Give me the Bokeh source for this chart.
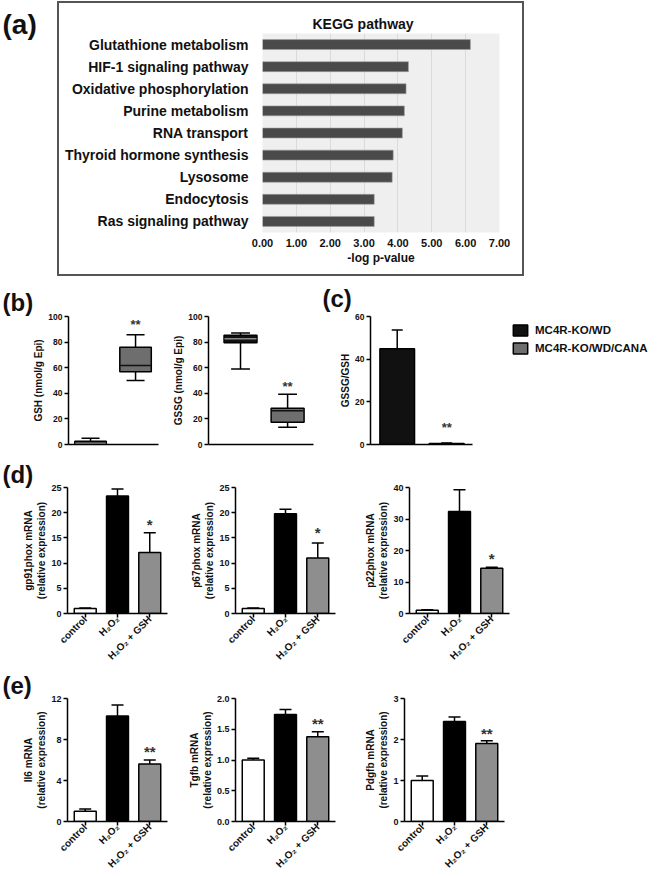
import math
from bokeh.plotting import figure
from bokeh.models import (Range1d, FactorRange, FixedTicker, NumeralTickFormatter,
                          Whisker, TeeHead, ColumnDataSource, Legend, LegendItem)
from bokeh.layouts import row, column
from bokeh.embed import file_html
from bokeh.resources import INLINE
from bokeh.core.properties import value

FONT = "Liberation Sans"
INK = "#111111"

# ---------------- data ----------------
kegg_pathways = ["Glutathione metabolism", "HIF-1 signaling pathway", "Oxidative phosphorylation",
                 "Purine metabolism", "RNA transport", "Thyroid hormone synthesis", "Lysosome",
                 "Endocytosis", "Ras signaling pathway"]
kegg_neglogp = [6.14, 4.31, 4.24, 4.19, 4.13, 3.86, 3.83, 3.30, 3.30]
kegg_ticks = [0, 1, 2, 3, 4, 5, 6, 7]

groups_b = ["MC4R-KO/WD", "MC4R-KO/WD/CANA"]
group_colors = ["#111111", "#6e6e6e"]
median_colors = ["#8a8a8a", "#111111"]

gsh_min = [0.0, 50.0]
gsh_q1 = [0.3, 56.8]
gsh_med = [1.0, 61.8]
gsh_q3 = [2.5, 76.0]
gsh_max = [4.8, 85.8]
gsh_stars = ["", "**"]
gsh_star_y = [0, 94]

gssg_min = [59.0, 13.4]
gssg_q1 = [79.5, 17.3]
gssg_med = [82.7, 26.3]
gssg_q3 = [85.3, 28.4]
gssg_max = [87.1, 39.3]
gssg_stars = ["", "**"]
gssg_star_y = [0, 45]

ratio_mean = [44.9, 0.5]
ratio_sem = [8.8, 0.2]
ratio_stars = ["", "**"]
ratio_star_y = [0, 8]

b_ticks = [0, 20, 40, 60, 80, 100]
c_ticks = [0, 20, 40, 60]

treatments = ["control", "H\u2082O\u2082", "H\u2082O\u2082 + GSH"]
bar_colors = ["#ffffff", "#000000", "#8e8e8e"]

gp91_mean = [1.0, 23.3, 12.1]
gp91_sem = [0.1, 1.4, 3.9]
gp91_stars = ["", "", "*"]
gp91_star_y = [0, 0, 17.6]

p67_mean = [1.0, 19.8, 11.0]
p67_sem = [0.1, 0.9, 3.0]
p67_stars = ["", "", "*"]
p67_star_y = [0, 0, 16.1]

p22_mean = [1.0, 32.4, 14.4]
p22_sem = [0.2, 6.9, 0.3]
p22_stars = ["", "", "*"]
p22_star_y = [0, 0, 17.4]

il6_mean = [1.0, 10.3, 5.6]
il6_sem = [0.22, 1.07, 0.4]
il6_stars = ["", "", "**"]
il6_star_y = [0, 0, 6.85]

tgfb_mean = [1.0, 1.74, 1.38]
tgfb_sem = [0.03, 0.08, 0.08]
tgfb_stars = ["", "", "**"]
tgfb_star_y = [0, 0, 1.59]

pdgfb_mean = [1.0, 2.44, 1.90]
pdgfb_sem = [0.11, 0.11, 0.07]
pdgfb_stars = ["", "", "**"]
pdgfb_star_y = [0, 0, 2.15]

ticks_25 = [0, 5, 10, 15, 20, 25]
ticks_40 = [0, 10, 20, 30, 40]
ticks_12 = [0, 4, 8, 12]
ticks_2 = [0.0, 0.5, 1.0, 1.5, 2.0]
ticks_3 = [0, 1, 2, 3]


# ---------------- helpers ----------------
def base_fig(w, h, left, right, top, bottom, x_range, y_range, **kw):
    p = figure(width=w, height=h, x_range=x_range, y_range=y_range,
               output_backend="svg", toolbar_location=None,
               min_border_left=left, min_border_right=right,
               min_border_top=top, min_border_bottom=bottom, **kw)
    p.grid.visible = False
    p.outline_line_color = None
    return p


def set_title(p, text, offset, standoff, size="24px"):
    p.title.text = text
    p.title.align = "left"
    p.title.offset = offset
    p.title.standoff = standoff
    p.title.text_font = FONT
    p.title.text_font_size = size
    p.title.text_font_style = "bold"
    p.title.text_color = INK


def prism_axes(p, tick_size):
    for ax in [p.xaxis[0], p.yaxis[0]]:
        ax.axis_line_color = "black"
        ax.axis_line_width = 1.5
        ax.major_tick_line_color = "black"
        ax.major_tick_line_width = 1.5
        ax.major_tick_in = 0
        ax.major_tick_out = 4
        ax.minor_tick_line_color = None
        ax.major_label_text_font = FONT
        ax.major_label_text_font_style = "bold"
        ax.major_label_text_font_size = tick_size
        ax.major_label_text_color = INK
        ax.major_label_standoff = 2
        ax.axis_label_text_font = FONT
        ax.axis_label_text_font_style = "bold"
        ax.axis_label_text_font_size = "10px"
        ax.axis_label_text_color = INK
        ax.axis_label_standoff = 1


def stars_text(p, xs, ys, texts, size):
    p.text(x=xs, y=ys, text=texts, text_font=value(FONT), text_font_size=size,
           text_font_style="bold", text_align="center", text_baseline="middle",
           text_color="#333333")


def box_panel(w, left, right, xr, mins, q1s, meds, q3s, maxs, stars, star_y, ylabel):
    p = base_fig(w, 175, left, right, 38, 8, Range1d(*xr), Range1d(0, 100))
    pos = [i + 1 for i in range(len(groups_b))]
    p.segment(x0=pos, y0=q3s, x1=pos, y1=maxs, line_color="black", line_width=1.5)
    p.segment(x0=pos, y0=q1s, x1=pos, y1=mins, line_color="black", line_width=1.5)
    p.segment(x0=[x - 0.2 for x in pos], y0=maxs, x1=[x + 0.2 for x in pos], y1=maxs,
              line_color="black", line_width=1.5)
    p.segment(x0=[x - 0.2 for x in pos], y0=mins, x1=[x + 0.2 for x in pos], y1=mins,
              line_color="black", line_width=1.5)
    p.vbar(x=pos, bottom=q1s, top=q3s, width=0.7, fill_color=group_colors,
           line_color="black", line_width=1.5)
    p.segment(x0=[x - 0.34 for x in pos], y0=meds, x1=[x + 0.34 for x in pos], y1=meds,
              line_color=median_colors, line_width=1.5)
    stars_text(p, pos, star_y, stars, "13px")
    prism_axes(p, "8.5px")
    p.yaxis.ticker = FixedTicker(ticks=b_ticks)
    p.yaxis.axis_label = ylabel
    p.xaxis.ticker = FixedTicker(ticks=[])
    p.xaxis.major_tick_line_color = None
    return p


def bar_panel(w, h, left, right, top, frame_h, means, sems, ticks, ymax, stars, star_y,
              ylabel, fmt=None):
    bottom = h - top - frame_h
    p = base_fig(w, h, left, right, top, bottom, Range1d(0.45, 3.55), Range1d(0, ymax))
    pos = [i + 1 for i in range(len(treatments))]
    src = ColumnDataSource(dict(x=pos, top=means,
                                upper=[m + s for m, s in zip(means, sems)],
                                color=bar_colors))
    p.vbar(x="x", top="top", width=0.68, fill_color="color", line_color="black",
           line_width=1.5, source=src)
    p.add_layout(Whisker(source=src, base="x", lower="top", upper="upper", lower_head=None,
                         upper_head=TeeHead(size=12, line_color="black", line_width=1.5),
                         line_color="black", line_width=1.5))
    stars_text(p, pos, star_y, stars, "15px")
    prism_axes(p, "9px")
    p.yaxis.ticker = FixedTicker(ticks=ticks)
    if fmt:
        p.yaxis.formatter = NumeralTickFormatter(format=fmt)
    p.yaxis.axis_label = ylabel
    p.xaxis.ticker = FixedTicker(ticks=pos)
    p.xaxis.major_label_overrides = {x: t for x, t in zip(pos, treatments)}
    p.xaxis.major_label_orientation = math.pi / 4
    p.xaxis.major_label_text_font_size = "10px"
    p.xaxis.major_label_standoff = 0
    return p


# ---------------- panel (a) ----------------
blank_a = figure(width=56, height=277, x_axis_location=None, y_axis_location=None,
                 output_backend="svg", toolbar_location=None,
                 min_border_left=0, min_border_right=0, min_border_bottom=0, min_border_top=40)
blank_a.grid.visible = False
blank_a.outline_line_color = None
set_title(blank_a, "(a)", 2, 1, size="28px")

pa = figure(width=469, height=277, x_range=Range1d(0, 7),
            y_range=FactorRange(factors=kegg_pathways[::-1]),
            output_backend="svg", toolbar_location=None,
            min_border_left=206, min_border_right=26, min_border_top=33, min_border_bottom=45,
            styles={"outline": "2px solid #555555", "outline-offset": "-3px"})
pa.border_fill_alpha = 0
pa.hbar(y=kegg_pathways, right=kegg_neglogp, left=0, height=0.45,
        fill_color="#4a4a4a", line_color="#a0a0a0", line_width=0.6)
pa.background_fill_color = "#efefef"
pa.outline_line_color = None
pa.ygrid.visible = False
pa.xgrid.grid_line_color = "#dadada"
pa.xgrid.grid_line_width = 1
pa.xaxis.ticker = FixedTicker(ticks=kegg_ticks)
pa.xaxis.formatter = NumeralTickFormatter(format="0.00")
for ax in [pa.xaxis[0], pa.yaxis[0]]:
    ax.axis_line_color = None
    ax.major_tick_line_color = None
    ax.minor_tick_line_color = None
    ax.major_tick_out = 0
    ax.major_tick_in = 0
    ax.major_label_text_font = FONT
    ax.major_label_text_font_style = "bold"
    ax.major_label_text_color = INK
pa.xaxis.major_label_text_font_size = "11px"
pa.xaxis.major_label_standoff = 6
pa.xaxis.axis_label = "-log p-value"
pa.xaxis.axis_label_text_font = FONT
pa.xaxis.axis_label_text_font_style = "bold"
pa.xaxis.axis_label_text_font_size = "12px"
pa.xaxis.axis_label_text_color = INK
pa.xaxis.axis_label_standoff = 1
pa.yaxis.major_label_text_font_size = "14px"
pa.yaxis.major_label_standoff = 14
set_title(pa, "KEGG pathway", 50, 4, size="14px")

# ---------------- panels (b), (c) ----------------
pb1 = box_panel(166, 68, 8, (0.51, 2.51), gsh_min, gsh_q1, gsh_med, gsh_q3, gsh_max,
                gsh_stars, gsh_star_y, "GSH (nmol/g Epi)")
set_title(pb1, "(b)", -66, 2)
pb2 = box_panel(156, 42, 9, (0.32, 2.55), gssg_min, gssg_q1, gssg_med, gssg_q3, gssg_max,
                gssg_stars, gssg_star_y, "GSSG (nmol/g Epi)")

# frame of (c) is widened to hold the legend; the x axis line is bounded to the bars
c_xrange = (0.46, 6.22)
pc = base_fig(338, 175, 48, 5, 39, 7, Range1d(*c_xrange), Range1d(0, 60))
pos_c = [i + 1 for i in range(len(groups_b))]
src_c = ColumnDataSource(dict(x=pos_c, top=ratio_mean,
                              upper=[m + s for m, s in zip(ratio_mean, ratio_sem)],
                              color=group_colors))
rc = pc.vbar(x="x", top="top", width=0.7, fill_color="color", line_color="black",
             line_width=1.5, source=src_c)
pc.add_layout(Whisker(source=src_c, base="x", lower="top", upper="upper", lower_head=None,
                      upper_head=TeeHead(size=11, line_color="black", line_width=1.5),
                      line_color="black", line_width=1.5))
stars_text(pc, pos_c, ratio_star_y, ratio_stars, "13px")
prism_axes(pc, "8.5px")
pc.yaxis.ticker = FixedTicker(ticks=c_ticks)
pc.yaxis.axis_label = "GSSG/GSH"
pc.xaxis.ticker = FixedTicker(ticks=[])
pc.xaxis.major_tick_line_color = None
pc.xaxis.bounds = (c_xrange[0], 2.52)
set_title(pc, "(c)", -48, 10)
legend = Legend(items=[LegendItem(label=groups_b[i], renderers=[rc], index=i)
                       for i in range(len(groups_b))],
                location=(141, 89), orientation="vertical",
                glyph_width=18, glyph_height=14, label_standoff=6, spacing=4,
                padding=0, margin=0, border_line_color=None, background_fill_alpha=0,
                label_text_font=FONT, label_text_font_style="bold",
                label_text_font_size="11.5px", label_height=14, label_text_color=INK)
pc.add_layout(legend)

# ---------------- panel (d) ----------------
pd1 = bar_panel(174, 216, 67, 7, 35, 126, gp91_mean, gp91_sem, ticks_25, 25,
                gp91_stars, gp91_star_y, "gp91phox mRNA\n(relative expression)")
set_title(pd1, "(d)", -65, 0)
pd2 = bar_panel(168, 216, 61, 7, 35, 126, p67_mean, p67_sem, ticks_25, 25,
                p67_stars, p67_star_y, "p67phox mRNA\n(relative expression)")
pd3 = bar_panel(177, 216, 67, 10, 35, 126, p22_mean, p22_sem, ticks_40, 40,
                p22_stars, p22_star_y, "p22phox mRNA\n(relative expression)")

# ---------------- panel (e) ----------------
pe1 = bar_panel(174, 208, 67, 7, 30, 125, il6_mean, il6_sem, ticks_12, 12,
                il6_stars, il6_star_y, "Il6 mRNA\n(relative expression)")
set_title(pe1, "(e)", -65, 0)
pe2 = bar_panel(168, 208, 61, 7, 30, 125, tgfb_mean, tgfb_sem, ticks_2, 2.0,
                tgfb_stars, tgfb_star_y, "Tgfb mRNA\n(relative expression)", fmt="0.0")
pe3 = bar_panel(172, 208, 62, 10, 30, 125, pdgfb_mean, pdgfb_sem, ticks_3, 3,
                pdgfb_stars, pdgfb_star_y, "Pdgfb mRNA\n(relative expression)")

# blank_a sits in its own column so that its top border is not aligned with the KEGG frame
layout = column(row(column(blank_a), pa), row(pb1, pb2, pc), row(pd1, pd2, pd3),
                row(pe1, pe2, pe3))

open("out.html", "w").write(file_html(layout, INLINE))
